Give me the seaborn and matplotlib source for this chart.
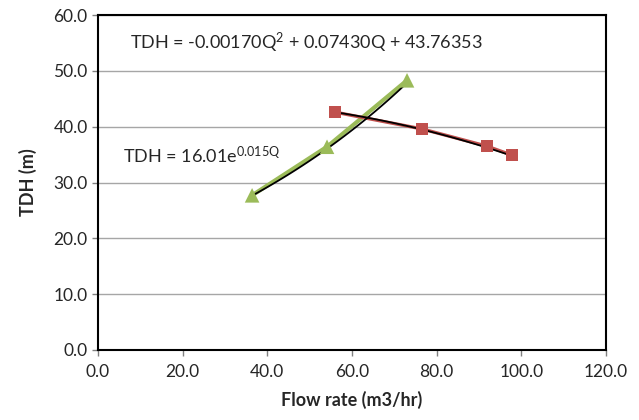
import numpy as np
import pandas as pd
import matplotlib
matplotlib.use("Agg")
import matplotlib.pyplot as plt
import seaborn as sns

# pomp (groen) en systeem (rood) punten
q_pump = [36.4, 54.1, 73.0]
tdh_pump = [27.7, 36.4, 48.3]
q_sys = [56.0, 76.5, 91.9, 97.8]
tdh_sys = [42.6, 39.6, 36.5, 34.9]

# trendlijn-coefficienten zoals in de grafiek vermeld
exp_a, exp_b = 16.01, 0.015
poly_a, poly_b, poly_c = -0.00170, 0.07430, 43.76353

x_ticks = [0, 20, 40, 60, 80, 100, 120]
y_ticks = [0, 10, 20, 30, 40, 50, 60]

sns.set_style("white")
plt.rcParams["font.family"] = ["Lato", "DejaVu Sans"]

groen = "#9BBB59"
rood = "#C0504D"

fig = plt.figure(figsize=(6.39, 4.2), dpi=100)
ax = fig.add_axes([98 / 639, 1 - 350 / 420, 508 / 639, 335 / 420])

df_pump = pd.DataFrame({"Q": q_pump, "TDH": tdh_pump})
df_sys = pd.DataFrame({"Q": q_sys, "TDH": tdh_sys})

# trendlijnen
qp = np.linspace(min(q_pump), max(q_pump), 100)
qs = np.linspace(min(q_sys), max(q_sys), 100)
trend_pump = exp_a * np.exp(exp_b * qp)
trend_sys = poly_a * qs ** 2 + poly_b * qs + poly_c

sns.lineplot(data=df_pump, x="Q", y="TDH", color=groen, linewidth=3.0, ax=ax, zorder=2)
sns.lineplot(data=df_sys, x="Q", y="TDH", color=rood, linewidth=2.4, ax=ax, zorder=2)
ax.plot(qp, trend_pump, color="black", linewidth=1.3, zorder=3)
ax.plot(qs, trend_sys, color="black", linewidth=1.3, zorder=3)
sns.scatterplot(data=df_pump, x="Q", y="TDH", marker="^", s=110, color=groen,
                edgecolor="none", ax=ax, zorder=4)
sns.scatterplot(data=df_sys, x="Q", y="TDH", marker="s", s=80, color=rood,
                edgecolor="none", ax=ax, zorder=4)

ax.set_xlim(0, 120)
ax.set_ylim(0, 60)
ax.set_xticks(x_ticks)
ax.set_yticks(y_ticks)
ax.set_xticklabels([f"{v:.1f}" for v in x_ticks])
ax.set_yticklabels([f"{v:.1f}" for v in y_ticks])
ax.tick_params(axis="both", labelsize=12.5, colors="#808080", labelcolor="#262626",
               length=4, width=1, direction="out", bottom=True, left=True)
ax.tick_params(axis="x", pad=6)

ax.yaxis.grid(True, color="#a6a6a6", linewidth=1)
ax.xaxis.grid(False)
ax.set_axisbelow(True)
for s in ax.spines.values():
    s.set_color("black")
    s.set_linewidth(1.5)

ax.set_xlabel("Flow rate (m3/hr)", fontsize=13, fontweight="bold", color="#262626", labelpad=8)
ax.set_ylabel("TDH (m)", fontsize=13, fontweight="bold", color="#262626", labelpad=12)

ax.text(7.6, 55, r"TDH = -0.00170Q$\mathregular{^2}$ + 0.07430Q + 43.76353",
        fontsize=13, color="#262626", va="center", ha="left")
ax.text(5.9, 34.9, r"TDH = 16.01e$\mathregular{^{0.015Q}}$",
        fontsize=13, color="#262626", va="center", ha="left")

fig.savefig("out.png", dpi=100)
